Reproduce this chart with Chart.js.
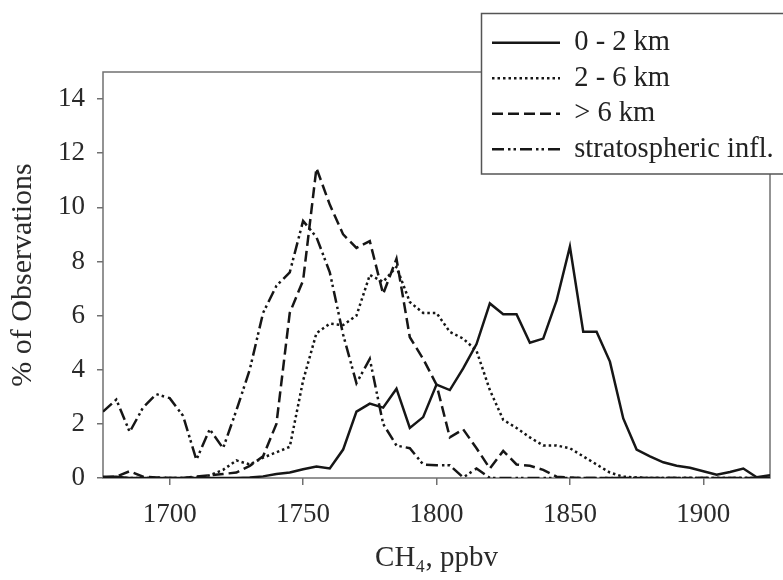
<!DOCTYPE html>
<html>
<head>
<meta charset="utf-8">
<script src="https://cdn.jsdelivr.net/npm/chart.js@4/dist/chart.umd.min.js"></script>
<style>
  html, body { margin: 0; padding: 0; background: #fff; }
</style>
</head>
<body>
<canvas id="grafico" width="783" height="580"></canvas>
<script>
// CH4 (ppbv), classes de 5 ppbv
const ch4 = [1675, 1680, 1685, 1690, 1695, 1700, 1705, 1710, 1715, 1720,
             1725, 1730, 1735, 1740, 1745, 1750, 1755, 1760, 1765, 1770,
             1775, 1780, 1785, 1790, 1795, 1800, 1805, 1810, 1815, 1820,
             1825, 1830, 1835, 1840, 1845, 1850, 1855, 1860, 1865, 1870,
             1875, 1880, 1885, 1890, 1895, 1900, 1905, 1910, 1915, 1920, 1925];

// % of observations
const km0a2 = [0.05, 0.05, 0, 0, 0, 0, 0, 0, 0, 0,
               0, 0.02, 0.06, 0.15, 0.2, 0.32, 0.42, 0.35, 1.05, 2.45,
               2.75, 2.6, 3.3, 1.85, 2.25, 3.45, 3.25, 4.05, 4.95, 6.45,
               6.05, 6.05, 5.0, 5.15, 6.55, 8.55, 5.4, 5.4, 4.3, 2.2,
               1.05, 0.8, 0.58, 0.45, 0.38, 0.25, 0.12, 0.22, 0.35, 0.03, 0.1];

const km2a6 = [0, 0, 0, 0, 0, 0, 0, 0.02, 0.1, 0.3,
               0.65, 0.5, 0.75, 0.95, 1.15, 3.6, 5.35, 5.7, 5.65, 6.0,
               7.5, 7.25, 7.8, 6.5, 6.1, 6.1, 5.4, 5.15, 4.7, 3.25,
               2.15, 1.85, 1.5, 1.2, 1.2, 1.1, 0.8, 0.5, 0.2, 0.05,
               0.02, 0, 0, 0, 0, 0, 0, 0, 0, 0, 0];

const kmAcima6 = [0.02, 0.05, 0.25, 0.05, 0.02, 0, 0, 0.05, 0.1, 0.15,
                  0.2, 0.45, 0.8, 2.0, 6.1, 7.3, 11.45, 10.1, 9.0, 8.5,
                  8.75, 6.8, 8.1, 5.2, 4.4, 3.45, 1.5, 1.8, 1.1, 0.35,
                  1.0, 0.5, 0.45, 0.3, 0.05, 0.02, 0, 0, 0, 0,
                  0, 0, 0, 0, 0, 0, 0, 0, 0, 0, 0];

const estratosfera = [2.45, 2.9, 1.7, 2.6, 3.1, 2.95, 2.3, 0.67, 1.8, 1.1,
                      2.5, 4.0, 6.1, 7.1, 7.6, 9.5, 8.9, 7.6, 5.3, 3.5,
                      4.4, 2.0, 1.2, 1.1, 0.5, 0.47, 0.47, 0.02, 0.35, 0,
                      0, 0, 0, 0, 0, 0, 0, 0, 0, 0,
                      0, 0, 0, 0, 0, 0, 0, 0, 0, 0, 0];

const nomes = ['0 - 2 km', '2 - 6 km', '> 6 km', 'stratospheric infl.'];
const ticksX = [1700, 1750, 1800, 1850, 1900];
const ticksY = [0, 2, 4, 6, 8, 10, 12, 14];

const fonte = 'Liberation Serif';
const corLinha = '#161616';
const corMoldura = '#707070';

function pontos(valores) {
    return ch4.map((x, i) => ({ x: x, y: valores[i] }));
}

// moldura do grafico e da legenda (desenhadas antes das series)
const molduraPlugin = {
    id: 'moldura',
    afterLayout(chart) {
        const leg = chart.legend;
        leg.left = 485;
        leg.top = 21.5;
        leg.right = 783;
        leg.bottom = 200;
    },
    beforeDraw(chart) {
        const ctx = chart.ctx;
        const a = chart.chartArea;
        const leg = chart.legend;
        ctx.save();
        ctx.strokeStyle = corMoldura;
        ctx.lineWidth = 1.5;
        ctx.strokeRect(a.left, a.top, a.right - a.left, a.bottom - a.top);
        ctx.fillStyle = '#fff';
        ctx.fillRect(leg.left - 3.5, leg.top - 8, 340, 160.5);
        ctx.strokeStyle = '#555';
        ctx.strokeRect(leg.left - 3.5, leg.top - 8, 340, 160.5);
        ctx.restore();
    }
};

const ctx = document.getElementById('grafico').getContext('2d');
const grafico = new Chart(ctx, {
    type: 'line',
    data: {
        datasets: [{
            label: nomes[0],
            data: pontos(km0a2),
            borderColor: corLinha,
            borderWidth: 2.5,
            borderDash: []
        }, {
            label: nomes[1],
            data: pontos(km2a6),
            borderColor: corLinha,
            borderWidth: 2.5,
            borderDash: [2.5, 3]
        }, {
            label: nomes[2],
            data: pontos(kmAcima6),
            borderColor: corLinha,
            borderWidth: 2.5,
            borderDash: [11, 5]
        }, {
            label: nomes[3],
            data: pontos(estratosfera),
            borderColor: corLinha,
            borderWidth: 2.5,
            borderDash: [12, 4, 2.5, 3, 2.5, 4]
        }]
    },
    options: {
        responsive: false,
        animation: false,
        devicePixelRatio: 1,
        layout: {
            padding: { top: 72, right: 13, left: 0, bottom: 0 }
        },
        elements: {
            point: { radius: 0 },
            line: { tension: 0, fill: false }
        },
        plugins: {
            tooltip: { enabled: false },
            legend: {
                position: 'chartArea',
                align: 'start',
                labels: {
                    usePointStyle: true,
                    pointStyle: 'line',
                    pointStyleWidth: 68,
                    boxHeight: 12,
                    padding: 7,
                    color: '#222',
                    font: { family: fonte, size: 28.5, lineHeight: 1.0 },
                    generateLabels: (chart) => {
                        const itens = Chart.defaults.plugins.legend.labels.generateLabels(chart);
                        itens.forEach((item, i) => {
                            const ds = chart.data.datasets[i];
                            item.lineDash = ds.borderDash;
                            item.lineWidth = ds.borderWidth;
                            item.strokeStyle = ds.borderColor;
                        });
                        return itens;
                    }
                }
            }
        },
        scales: {
            x: {
                type: 'linear',
                min: 1675,
                max: 1925,
                afterBuildTicks: (axis) => {
                    axis.ticks = ticksX.map(v => ({ value: v }));
                },
                afterFit: (axis) => { axis.height = 102; },
                grid: { drawOnChartArea: false, tickLength: 7, color: corMoldura, lineWidth: 1.5 },
                border: { display: false },
                ticks: {
                    padding: 14,
                    color: '#2a2a2a',
                    maxRotation: 0,
                    font: { family: fonte, size: 27 },
                    callback: (v) => String(v)
                },
                title: {
                    display: true,
                    text: 'CH₄, ppbv',
                    color: '#2a2a2a',
                    padding: { top: 0, bottom: 4 },
                    font: { family: fonte, size: 29 }
                }
            },
            y: {
                min: 0,
                max: 15,
                afterBuildTicks: (axis) => {
                    axis.ticks = ticksY.map(v => ({ value: v }));
                },
                afterFit: (axis) => { axis.width = 103; },
                grid: { drawOnChartArea: false, tickLength: 6, color: corMoldura, lineWidth: 1.5 },
                border: { display: false },
                ticks: {
                    padding: 12,
                    color: '#2a2a2a',
                    font: { family: fonte, size: 27 },
                    callback: (v) => String(v)
                },
                title: {
                    display: true,
                    text: '% of Observations',
                    color: '#2a2a2a',
                    padding: { top: 5, bottom: 0 },
                    font: { family: fonte, size: 30 }
                }
            }
        }
    },
    plugins: [molduraPlugin]
});
</script>
</body>
</html>
